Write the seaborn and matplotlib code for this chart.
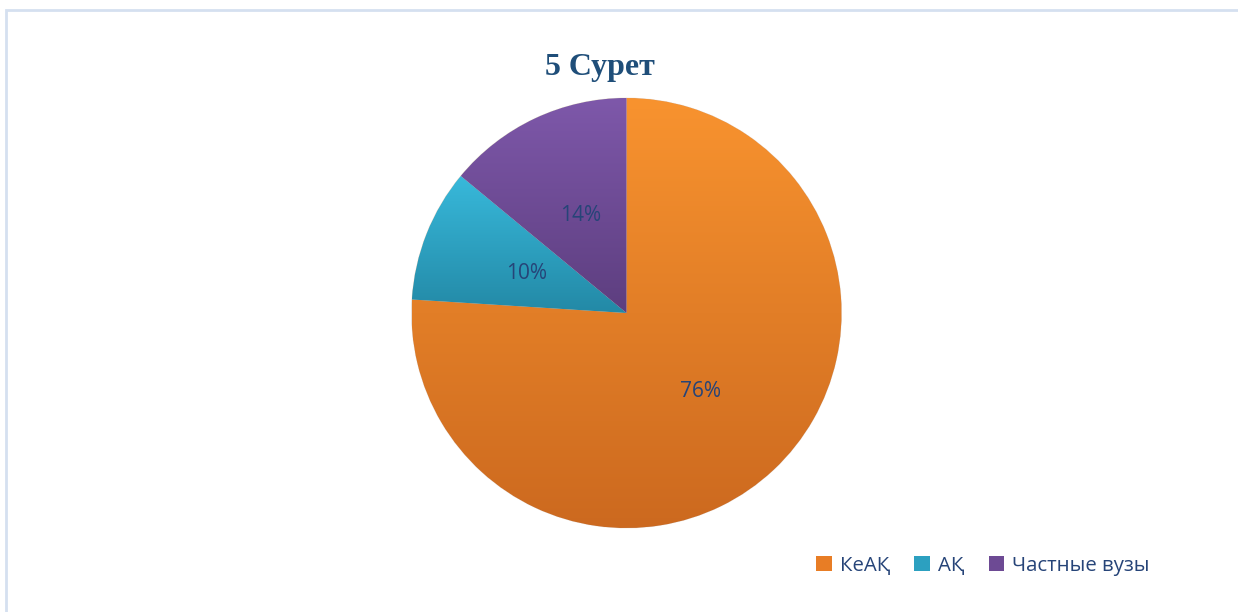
import numpy as np
import pandas as pd
import seaborn as sns
import matplotlib
matplotlib.use("Agg")
import matplotlib.pyplot as plt
from matplotlib.colors import LinearSegmentedColormap
from matplotlib.patches import Patch, Rectangle

# ---- data ----
categories = ["КеАҚ", "АҚ", "Частные вузы"]
shares = [76, 10, 14]
title_text = "5 Сурет"

top_colors = ["#F8932F", "#38B9DB", "#7E58AA"]
bottom_colors = ["#CC691F", "#2389A6", "#5D3E7F"]
legend_colors = ["#E87D25", "#2CA0C0", "#6D4A94"]
text_color = "#264478"

sns.set_theme(style="white")
plt.rcParams["font.family"] = ["Open Sans", "Noto Sans", "DejaVu Sans"]

W, H = 1238, 612
fig = plt.figure(figsize=(W / 100, H / 100), dpi=100)
fig.patch.set_facecolor("white")

# chart frame
fig.patches.append(Rectangle((6 / W, -0.05), 1.1, 1 - 10 / H + 0.05,
                             transform=fig.transFigure, fill=False,
                             edgecolor="#D5E0F0", linewidth=2.0))

cx, cy, r = 626.5, 313, 215
ax = fig.add_axes([(cx - r) / W, (H - cy - r) / H, 2 * r / W, 2 * r / H])

df = pd.DataFrame({"category": categories, "share": shares})
wedges, texts, autotexts = ax.pie(
    df["share"], startangle=90, counterclock=False, radius=1.0,
    autopct="%1.0f%%", pctdistance=0.5,
    wedgeprops=dict(linewidth=0.6, edgecolor="#F4E6DA"),
    textprops=dict(color=text_color, fontsize=15),
)
ax.set_xlim(-1, 1)
ax.set_ylim(-1, 1)
ax.set_aspect("equal")
ax.axis("off")

fig.canvas.draw()
for w, tc, bc in zip(wedges, top_colors, bottom_colors):
    verts = w.get_path().vertices
    ymin, ymax = verts[:, 1].min(), verts[:, 1].max()
    xmin, xmax = verts[:, 0].min(), verts[:, 0].max()
    cmap = LinearSegmentedColormap.from_list("g", [bc, tc])
    grad = np.linspace(0, 1, 256).reshape(-1, 1)
    im = ax.imshow(grad, extent=[xmin, xmax, ymin, ymax], origin="lower",
                   cmap=cmap, aspect="auto", zorder=w.get_zorder() + 0.1,
                   interpolation="bilinear")
    im.set_clip_path(w)
for t in autotexts:
    t.set_zorder(10)
ax.set_xlim(-1, 1)
ax.set_ylim(-1, 1)

fig.text(600 / W, 1 - 68 / H, title_text, ha="center", va="center",
         fontsize=23, fontweight="bold", color="#1F4E79",
         family=["Liberation Serif", "DejaVu Serif"])

handles = [Patch(facecolor=c, edgecolor="none") for c in legend_colors]
leg = fig.legend(handles, categories, loc="center", ncol=3,
                 bbox_to_anchor=(983 / W, 1 - 566 / H), frameon=False,
                 fontsize=14.7, handlelength=0.75, handleheight=0.75,
                 handletextpad=0.4, columnspacing=1.2)
for t in leg.get_texts():
    t.set_color(text_color)

fig.savefig("out.png", dpi=100, facecolor="white")
